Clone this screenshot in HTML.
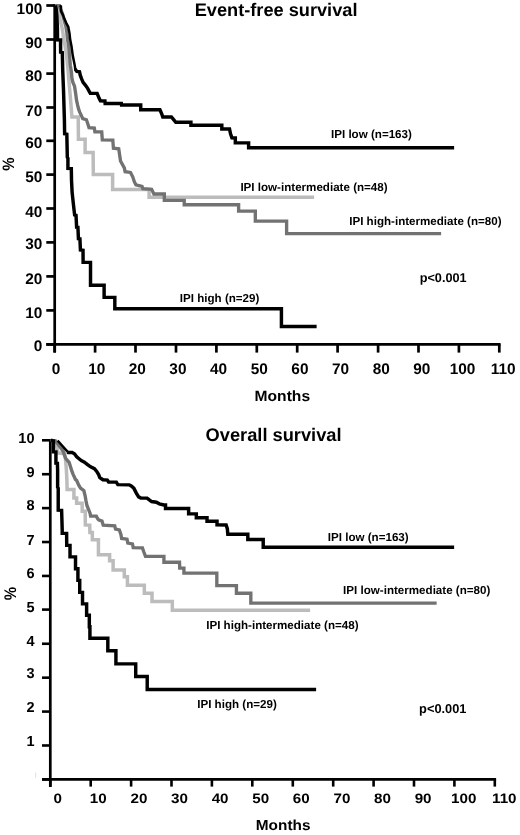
<!DOCTYPE html>
<html><head><meta charset="utf-8"><style>
html,body{margin:0;padding:0;background:#fff;width:520px;height:835px;overflow:hidden}
svg{display:block;will-change:transform}
text{font-family:"Liberation Sans",sans-serif;font-weight:bold;text-rendering:geometricPrecision}
</style></head><body>
<svg width="520" height="835" viewBox="0 0 520 835">
<rect width="520" height="835" fill="#fff"/>
<line x1="54.7" y1="4.2" x2="54.7" y2="352.6" stroke="#000" stroke-width="2.7"/>
<line x1="46.3" y1="344.4" x2="500.6" y2="344.4" stroke="#000" stroke-width="2.7"/>
<line x1="46.3" y1="5.5" x2="54.7" y2="5.5" stroke="#000" stroke-width="2.7"/>
<text x="42.3" y="14" font-size="15.4" text-anchor="end">100</text>
<line x1="46.3" y1="39.5" x2="54.7" y2="39.5" stroke="#000" stroke-width="2.7"/>
<text x="42.3" y="48" font-size="15.4" text-anchor="end">90</text>
<line x1="46.3" y1="73.6" x2="54.7" y2="73.6" stroke="#000" stroke-width="2.7"/>
<text x="42.3" y="81" font-size="15.4" text-anchor="end">80</text>
<line x1="46.3" y1="107.5" x2="54.7" y2="107.5" stroke="#000" stroke-width="2.7"/>
<text x="42.3" y="116" font-size="15.4" text-anchor="end">70</text>
<line x1="46.3" y1="140.8" x2="54.7" y2="140.8" stroke="#000" stroke-width="2.7"/>
<text x="42.3" y="148" font-size="15.4" text-anchor="end">60</text>
<line x1="46.3" y1="174.6" x2="54.7" y2="174.6" stroke="#000" stroke-width="2.7"/>
<text x="42.3" y="182" font-size="15.4" text-anchor="end">50</text>
<line x1="46.3" y1="208.5" x2="54.7" y2="208.5" stroke="#000" stroke-width="2.7"/>
<text x="42.3" y="217" font-size="15.4" text-anchor="end">40</text>
<line x1="46.3" y1="242.4" x2="54.7" y2="242.4" stroke="#000" stroke-width="2.7"/>
<text x="42.3" y="249" font-size="15.4" text-anchor="end">30</text>
<line x1="46.3" y1="276.4" x2="54.7" y2="276.4" stroke="#000" stroke-width="2.7"/>
<text x="42.3" y="284" font-size="15.4" text-anchor="end">20</text>
<line x1="46.3" y1="310.4" x2="54.7" y2="310.4" stroke="#000" stroke-width="2.7"/>
<text x="42.3" y="318" font-size="15.4" text-anchor="end">10</text>
<line x1="46.3" y1="344.4" x2="54.7" y2="344.4" stroke="#000" stroke-width="2.7"/>
<text x="42.3" y="351" font-size="15.4" text-anchor="end">0</text>
<line x1="54.7" y1="344.4" x2="54.7" y2="352.6" stroke="#000" stroke-width="2.7"/>
<text x="56.0" y="374" font-size="15.4" text-anchor="middle">0</text>
<line x1="95.1" y1="344.4" x2="95.1" y2="352.6" stroke="#000" stroke-width="2.7"/>
<text x="96.7" y="374" font-size="15.4" text-anchor="middle">10</text>
<line x1="135.5" y1="344.4" x2="135.5" y2="352.6" stroke="#000" stroke-width="2.7"/>
<text x="137.3" y="374" font-size="15.4" text-anchor="middle">20</text>
<line x1="176.0" y1="344.4" x2="176.0" y2="352.6" stroke="#000" stroke-width="2.7"/>
<text x="177.9" y="374" font-size="15.4" text-anchor="middle">30</text>
<line x1="216.4" y1="344.4" x2="216.4" y2="352.6" stroke="#000" stroke-width="2.7"/>
<text x="218.6" y="374" font-size="15.4" text-anchor="middle">40</text>
<line x1="256.8" y1="344.4" x2="256.8" y2="352.6" stroke="#000" stroke-width="2.7"/>
<text x="259.2" y="374" font-size="15.4" text-anchor="middle">50</text>
<line x1="297.2" y1="344.4" x2="297.2" y2="352.6" stroke="#000" stroke-width="2.7"/>
<text x="299.9" y="374" font-size="15.4" text-anchor="middle">60</text>
<line x1="337.6" y1="344.4" x2="337.6" y2="352.6" stroke="#000" stroke-width="2.7"/>
<text x="340.6" y="374" font-size="15.4" text-anchor="middle">70</text>
<line x1="378.1" y1="344.4" x2="378.1" y2="352.6" stroke="#000" stroke-width="2.7"/>
<text x="381.2" y="374" font-size="15.4" text-anchor="middle">80</text>
<line x1="418.5" y1="344.4" x2="418.5" y2="352.6" stroke="#000" stroke-width="2.7"/>
<text x="421.8" y="374" font-size="15.4" text-anchor="middle">90</text>
<line x1="458.9" y1="344.4" x2="458.9" y2="352.6" stroke="#000" stroke-width="2.7"/>
<text x="462.5" y="374" font-size="15.4" text-anchor="middle">100</text>
<line x1="499.3" y1="344.4" x2="499.3" y2="352.6" stroke="#000" stroke-width="2.7"/>
<text x="503.1" y="374" font-size="15.4" text-anchor="middle">110</text>
<text x="194.7" y="16" font-size="18.2">Event-free survival</text>
<text transform="translate(254.6,401) scale(1.04,1)" font-size="15">Months</text>
<text transform="translate(13.5,164.1) rotate(-90) scale(1,1.1)" font-size="15" text-anchor="middle">%</text>
<text x="331.0" y="138" font-size="11.6">IPI low (n=163)</text>
<text x="240.4" y="191" font-size="11.6">IPI low-intermediate (n=48)</text>
<text x="349.2" y="225" font-size="11.6">IPI high-intermediate (n=80)</text>
<text x="179.8" y="302" font-size="11.6">IPI high (n=29)</text>
<text x="419.7" y="282" font-size="12.7">p&lt;0.001</text>
<line x1="50.3" y1="439.0" x2="50.3" y2="787" stroke="#000" stroke-width="2.7"/>
<line x1="42.2" y1="779.4" x2="496.1" y2="779.4" stroke="#000" stroke-width="2.7"/>
<line x1="42.0" y1="440.30" x2="50.3" y2="440.30" stroke="#000" stroke-width="2.6"/>
<text x="34.5" y="443" font-size="14.5" text-anchor="end">10</text>
<line x1="42.0" y1="474.21" x2="50.3" y2="474.21" stroke="#000" stroke-width="2.6"/>
<text x="34.5" y="477" font-size="14.5" text-anchor="end">9</text>
<line x1="42.0" y1="508.12" x2="50.3" y2="508.12" stroke="#000" stroke-width="2.6"/>
<text x="34.5" y="510" font-size="14.5" text-anchor="end">8</text>
<line x1="42.0" y1="542.03" x2="50.3" y2="542.03" stroke="#000" stroke-width="2.6"/>
<text x="34.5" y="545" font-size="14.5" text-anchor="end">7</text>
<line x1="42.0" y1="575.94" x2="50.3" y2="575.94" stroke="#000" stroke-width="2.6"/>
<text x="34.5" y="578" font-size="14.5" text-anchor="end">6</text>
<line x1="42.0" y1="609.60" x2="50.3" y2="609.60" stroke="#000" stroke-width="2.6"/>
<text x="34.5" y="612" font-size="14.5" text-anchor="end">5</text>
<line x1="42.0" y1="643.76" x2="50.3" y2="643.76" stroke="#000" stroke-width="2.6"/>
<text x="34.5" y="646" font-size="14.5" text-anchor="end">4</text>
<line x1="42.0" y1="677.67" x2="50.3" y2="677.67" stroke="#000" stroke-width="2.6"/>
<text x="34.5" y="678" font-size="14.5" text-anchor="end">3</text>
<line x1="42.0" y1="711.58" x2="50.3" y2="711.58" stroke="#000" stroke-width="2.6"/>
<text x="34.5" y="712" font-size="14.5" text-anchor="end">2</text>
<line x1="42.0" y1="745.49" x2="50.3" y2="745.49" stroke="#000" stroke-width="2.6"/>
<text x="34.5" y="746" font-size="14.5" text-anchor="end">1</text>
<line x1="42.0" y1="779.40" x2="50.3" y2="779.40" stroke="#000" stroke-width="2.6"/>
<line x1="35.6" y1="772.5" x2="35.6" y2="778" stroke="#e4e4e4" stroke-width="1.2"/>
<line x1="50.3" y1="779.4" x2="50.3" y2="786.6" stroke="#000" stroke-width="2.6"/>
<text transform="translate(57.7,803) scale(1.11,1)" font-size="13.7" text-anchor="middle">0</text>
<line x1="90.7" y1="779.4" x2="90.7" y2="786.6" stroke="#000" stroke-width="2.6"/>
<text transform="translate(98.3,803) scale(1.11,1)" font-size="13.7" text-anchor="middle">10</text>
<line x1="131.1" y1="779.4" x2="131.1" y2="786.6" stroke="#000" stroke-width="2.6"/>
<text transform="translate(138.9,803) scale(1.11,1)" font-size="13.7" text-anchor="middle">20</text>
<line x1="171.5" y1="779.4" x2="171.5" y2="786.6" stroke="#000" stroke-width="2.6"/>
<text transform="translate(179.5,803) scale(1.11,1)" font-size="13.7" text-anchor="middle">30</text>
<line x1="211.9" y1="779.4" x2="211.9" y2="786.6" stroke="#000" stroke-width="2.6"/>
<text transform="translate(220.1,803) scale(1.11,1)" font-size="13.7" text-anchor="middle">40</text>
<line x1="252.3" y1="779.4" x2="252.3" y2="786.6" stroke="#000" stroke-width="2.6"/>
<text transform="translate(260.7,803) scale(1.11,1)" font-size="13.7" text-anchor="middle">50</text>
<line x1="292.8" y1="779.4" x2="292.8" y2="786.6" stroke="#000" stroke-width="2.6"/>
<text transform="translate(301.3,803) scale(1.11,1)" font-size="13.7" text-anchor="middle">60</text>
<line x1="333.2" y1="779.4" x2="333.2" y2="786.6" stroke="#000" stroke-width="2.6"/>
<text transform="translate(341.9,803) scale(1.11,1)" font-size="13.7" text-anchor="middle">70</text>
<line x1="373.6" y1="779.4" x2="373.6" y2="786.6" stroke="#000" stroke-width="2.6"/>
<text transform="translate(382.5,803) scale(1.11,1)" font-size="13.7" text-anchor="middle">80</text>
<line x1="414.0" y1="779.4" x2="414.0" y2="786.6" stroke="#000" stroke-width="2.6"/>
<text transform="translate(423.1,803) scale(1.11,1)" font-size="13.7" text-anchor="middle">90</text>
<line x1="454.4" y1="779.4" x2="454.4" y2="786.6" stroke="#000" stroke-width="2.6"/>
<text transform="translate(463.7,803) scale(1.11,1)" font-size="13.7" text-anchor="middle">100</text>
<line x1="494.8" y1="779.4" x2="494.8" y2="786.6" stroke="#000" stroke-width="2.6"/>
<text transform="translate(504.3,803) scale(1.11,1)" font-size="13.7" text-anchor="middle">110</text>
<text x="205.6" y="441" font-size="18.25">Overall survival</text>
<text transform="translate(255.8,830) scale(1.06,1)" font-size="14.5">Months</text>
<text transform="translate(15.8,593.6) rotate(-90) scale(1,1.12)" font-size="15" text-anchor="middle">%</text>
<text x="327.8" y="541" font-size="11.6">IPI low (n=163)</text>
<text x="343.1" y="594" font-size="11.6">IPI low-intermediate (n=80)</text>
<text x="206.2" y="629" font-size="11.6">IPI high-intermediate (n=48)</text>
<text x="197.2" y="708" font-size="11.6">IPI high (n=29)</text>
<text x="419.1" y="713" font-size="12.8">p&lt;0.001</text>
<path d="M55.12,5.65 L57.62,5.75 L58.62,10.15 L60.12,20.15 L62.12,28.15 L63.12,34.15 L63.42,38.15 L65.12,46.15 L66.52,55.15 L67.92,68.65 L69.02,82.05 L70.22,95.55 L71.32,108.95 L71.92,117.05 L78.22,117.05 L78.42,139.35 L85.12,139.35 L85.12,152.55 L93.12,152.55 L93.32,174.55 L112.62,174.55 L112.62,189.45 L149.12,189.45 L149.12,197.25 L314.12,197.25" fill="none" stroke="#bcbcbc" stroke-width="3.5" stroke-linejoin="miter" stroke-linecap="butt"/>
<path d="M55.12,5.65 L59.12,5.75 L62.62,14.15 L64.62,22.15 L65.82,26.15 L66.82,32.15 L67.32,38.15 L68.72,46.15 L69.52,55.15 L70.32,65.15 L71.42,72.15 L71.92,78.15 L72.82,82.15 L74.52,86.15 L75.62,93.15 L76.52,100.15 L77.62,105.15 L78.62,109.15 L79.72,112.15 L81.62,116.15 L82.72,118.65 L86.42,119.75 L88.02,124.45 L89.02,127.65 L94.32,128.15 L94.92,131.85 L101.72,131.85 L102.32,139.85 L112.82,140.15 L113.42,148.25 L118.72,148.85 L120.52,160.95 L124.32,167.85 L125.12,171.65 L130.52,172.45 L132.82,177.05 L134.32,181.65 L135.92,184.75 L142.02,186.35 L142.82,188.65 L151.62,189.35 L153.92,193.95 L164.32,193.95 L164.32,200.35 L184.22,200.35 L184.22,204.75 L238.62,204.75 L238.62,211.15 L255.32,211.15 L255.32,221.15 L286.62,221.15 L286.62,233.55 L441.12,233.55" fill="none" stroke="#727272" stroke-width="3.35" stroke-linejoin="miter" stroke-linecap="butt"/>
<path d="M59.72,5.35 L60.92,6.35 L61.12,11.35 L62.62,14.35 L64.62,19.35 L66.42,23.35 L68.32,26.85 L68.82,29.85 L69.52,33.35 L70.02,38.35 L70.72,42.35 L71.52,46.35 L72.72,55.35 L73.92,61.35 L74.92,66.35 L75.32,69.85" fill="none" stroke="#000" stroke-width="2.5" stroke-linejoin="miter" stroke-linecap="butt"/>
<path d="M75.12,69.05 L76.82,71.45 L79.52,71.75 L80.22,75.15 L81.62,78.85 L83.12,82.35 L85.52,85.35 L87.62,88.35 L89.22,91.35 L90.32,93.25 L97.12,93.35 L99.02,98.05 L100.42,100.75 L104.92,100.95 L105.12,103.45 L121.32,103.45 L121.52,105.05 L140.72,105.05 L140.72,109.75 L159.92,109.75 L161.82,114.10 L162.82,116.95 L171.42,116.95 L173.42,119.35 L175.82,122.25 L190.92,122.25 L190.92,125.25 L221.82,125.25 L221.82,128.95 L229.52,128.95 L230.52,133.75 L231.92,137.75 L235.32,137.95 L235.32,142.85 L248.62,142.85 L248.62,147.75 L454.12,147.75" fill="none" stroke="#000" stroke-width="3.45" stroke-linejoin="miter" stroke-linecap="butt"/>
<path d="M55.12,5.55 L56.12,8.35 L56.82,15.35 L57.42,28.35 L57.52,39.85 L60.52,39.95 L60.62,52.15 L62.32,52.55 L62.72,70.35 L63.52,90.35 L64.42,120.35 L64.62,133.85 L66.82,134.15 L67.32,157.35 L67.92,158.35 L67.92,168.35 L71.32,168.55 L71.52,180.35 L72.12,192.35 L73.42,204.35 L74.62,214.95 L76.02,215.35 L76.62,227.15 L77.92,227.35 L78.42,238.65 L79.92,238.85 L80.42,250.05 L83.02,250.35 L83.12,262.35 L90.52,262.35 L90.52,285.25 L104.12,285.25 L104.12,297.35 L114.82,297.35 L114.82,308.75 L281.42,308.75 L281.42,326.55 L316.62,326.55" fill="none" stroke="#000" stroke-width="3.45" stroke-linejoin="miter" stroke-linecap="butt"/>
<path d="M50.62,440.35 L55.62,440.85 L56.62,445.35 L57.62,452.85 L64.62,453.65 L65.62,460.35 L66.42,470.35 L66.92,480.35 L67.12,489.55 L73.92,489.55 L73.92,498.05 L76.62,498.05 L76.62,503.35 L82.12,503.35 L82.22,511.15 L85.22,511.15 L85.32,524.95 L89.72,525.15 L89.92,532.55 L92.32,532.55 L92.32,539.85 L98.42,539.85 L98.42,554.65 L109.62,554.65 L109.62,560.75 L113.12,560.75 L113.12,570.05 L124.32,570.05 L124.32,576.85 L127.42,576.85 L127.42,585.35 L144.32,585.35 L144.32,593.35 L152.02,593.35 L152.02,601.55 L172.32,601.55 L172.32,610.25 L310.12,610.25" fill="none" stroke="#bcbcbc" stroke-width="3.5" stroke-linejoin="miter" stroke-linecap="butt"/>
<path d="M50.62,440.35 L55.12,440.85 L56.62,442.35 L60.62,447.85 L63.12,451.35 L65.62,458.35 L69.12,462.35 L71.62,470.35 L73.12,474.35 L75.52,479.55 L76.62,480.35 L78.62,484.95 L80.52,488.05 L83.92,490.75 L85.12,495.75 L85.92,500.35 L87.02,505.75 L88.62,509.55 L90.12,513.45 L90.62,516.15 L96.32,516.15 L97.42,518.35 L98.62,519.95 L102.02,521.15 L103.22,525.15 L114.72,525.75 L115.52,529.15 L119.32,529.95 L120.92,534.55 L121.62,538.45 L127.02,539.15 L127.82,543.05 L132.42,543.85 L133.22,547.65 L142.42,547.95 L143.92,552.25 L145.52,556.35 L163.92,556.35 L163.92,562.25 L179.52,562.25 L179.72,568.05 L183.92,568.05 L183.92,573.05 L216.82,573.05 L216.82,585.55 L236.42,585.55 L236.42,593.25 L250.82,593.25 L250.82,603.05 L436.62,603.05" fill="none" stroke="#727272" stroke-width="3.35" stroke-linejoin="miter" stroke-linecap="butt"/>
<path d="M57.52,440.85 L58.62,441.65 L61.12,444.55 L63.62,447.35 L66.12,450.15 L67.72,451.95" fill="none" stroke="#000" stroke-width="2.5" stroke-linejoin="miter" stroke-linecap="butt"/>
<path d="M67.12,452.25 L68.12,452.45 L72.12,452.55 L74.42,453.75 L76.72,456.85 L79.02,458.75 L81.32,460.65 L84.42,462.15 L87.52,464.55 L90.62,466.85 L94.42,468.75 L96.72,471.45 L98.62,474.55 L99.82,477.55 L102.92,479.75 L107.32,480.05 L108.62,482.05 L116.32,482.15 L117.82,484.65 L129.32,484.85 L131.62,486.15 L133.92,488.35 L136.32,493.05 L138.62,496.85 L140.92,498.05 L147.02,498.15 L149.32,499.95 L151.62,501.55 L156.32,502.25 L159.32,503.85 L163.92,504.95 L165.52,504.95 L165.52,508.45 L188.62,508.45 L188.62,513.85 L196.32,513.85 L196.32,517.65 L207.02,517.65 L207.02,521.15 L217.02,521.15 L217.02,524.85 L226.12,524.95 L227.32,528.65 L227.82,534.15 L247.82,534.15 L247.82,539.55 L263.22,539.55 L263.22,547.25 L454.12,547.25" fill="none" stroke="#000" stroke-width="3.45" stroke-linejoin="miter" stroke-linecap="butt"/>
<path d="M50.62,440.35 L53.42,440.85 L53.42,451.85 L55.92,451.85 L55.92,463.15 L57.42,463.35 L57.62,470.35 L57.62,487.35 L58.22,488.35 L58.22,510.15 L61.62,510.35 L62.22,530.35 L62.22,533.35 L66.62,533.35 L66.72,545.35 L70.02,545.35 L70.02,556.85 L75.52,556.85 L75.52,568.75 L77.92,568.75 L77.92,580.35 L79.72,580.35 L79.72,592.35 L82.52,592.35 L82.52,603.85 L86.62,603.85 L86.62,615.25 L89.32,615.25 L89.32,626.65 L89.92,626.65 L89.92,638.15 L107.82,638.15 L107.82,650.65 L115.92,650.65 L115.92,663.85 L135.72,663.85 L135.72,676.55 L147.22,676.55 L147.22,689.55 L316.12,689.55" fill="none" stroke="#000" stroke-width="3.45" stroke-linejoin="miter" stroke-linecap="butt"/>
</svg>
</body></html>
